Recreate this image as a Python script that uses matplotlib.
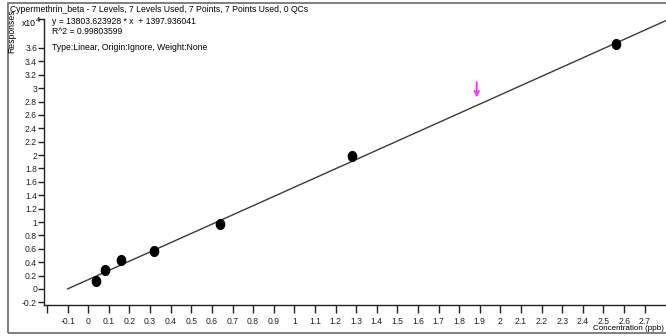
import matplotlib
matplotlib.use("Agg")
import matplotlib.pyplot as plt
import numpy as np
from matplotlib.path import Path
from matplotlib.patches import Rectangle
from matplotlib import font_manager

# ---- data ----
conc = [0.04, 0.08, 0.16, 0.32, 0.64, 1.28, 2.56]
resp = [1200, 2800, 4300, 5700, 9700, 19900, 36600]
slope = 13803.623928
intercept = 1397.936041
r2 = 0.99803599
line_x = [-0.1, 2.8]
arrow_x = 1.885
arrow_y = [30900, 28600]
title = "Cypermethrin_beta - 7 Levels, 7 Levels Used, 7 Points, 7 Points Used, 0 QCs"
xticks = [round(-0.2 + 0.1 * i, 1) for i in range(30)]
yticks = [round(-0.2 + 0.2 * i, 1) for i in range(20)]

names = {f.name for f in font_manager.fontManager.ttflist}
fam = ["Liberation Sans Narrow"] if "Liberation Sans Narrow" in names else ["Liberation Sans"]
plt.rcParams["font.family"] = fam + ["DejaVu Sans"]
fs = 6.2

W, H = 666, 336
fig = plt.figure(figsize=(W / 100, H / 100), dpi=100)
fig.patch.set_facecolor("white")

# outer frame
fig.patches.append(Rectangle((8 / W, 3 / H), 1.0, (333 - 3) / H, transform=fig.transFigure,
                             fill=False, edgecolor="#6a6a6a", lw=1.2, clip_on=False))

ax_l, ax_r, ax_b, ax_t = 44, 668, 305, 19
ax = fig.add_axes([ax_l / W, (H - ax_b) / H, (ax_r - ax_l) / W, (ax_b - ax_t) / H])
ax.set_facecolor("none")
ax.set_xlim(-0.2146, 2.813)
ax.set_ylim(-0.239, 4.033)

for s in ["top", "right"]:
    ax.spines[s].set_visible(False)
for s in ["left", "bottom"]:
    ax.spines[s].set_color("#222222")
    ax.spines[s].set_linewidth(1.0)

ax.set_xticks(xticks)
ax.set_xticklabels(["" if v == -0.2 else f"{v:g}" for v in xticks], fontsize=fs)
ax.tick_params(axis="x", direction="out", length=6, width=1, pad=3, colors="#222222")
ax.set_yticks(yticks + [4.03])
ax.set_yticklabels([f"{v:g}" if v <= 3.6 else "" for v in yticks] + [""], fontsize=fs)
ax.tick_params(axis="y", direction="out", length=4, width=1, pad=1, colors="#222222")

# regression line
lx = np.array(line_x)
ax.plot(lx, (slope * lx + intercept) / 1e4, color="#3a3a3a", lw=1.0, zorder=2, clip_on=False)

# points (ellipse marker)
t = np.linspace(0, 2 * np.pi, 40)
ell = Path(np.column_stack([0.85 * np.cos(t), np.sin(t)]), closed=True)
ax.plot(conc, np.array(resp) / 1e4, linestyle="none", marker=ell, markersize=7,
        color="black", zorder=3)

# magenta arrow
ax.annotate("", xy=(arrow_x, arrow_y[1] / 1e4), xytext=(arrow_x, arrow_y[0] / 1e4),
            arrowprops=dict(arrowstyle="->", color="#ff33ff", lw=1.4,
                            shrinkA=0, shrinkB=0, mutation_scale=8))

# texts
def ftxt(x, y, s, **kw):
    fig.text(x / W, 1 - y / H, s, fontsize=kw.pop("fontsize", fs), color="black", **kw)

ftxt(10, 9, title, ha="left", va="center")
ftxt(52, 22, f"y = {slope:.6f} * x  + {intercept:.6f}", ha="left", va="center")
ftxt(52, 31, f"R^2 = {r2:.8f}", ha="left", va="center")
ftxt(52, 48, "Type:Linear, Origin:Ignore, Weight:None", ha="left", va="center")
ftxt(12, 31, "Responses", ha="center", va="center", rotation=90)
ftxt(22, 24, "x10", ha="left", va="center")
ftxt(36, 20, "4", ha="left", va="center", fontsize=5.5)
ftxt(664, 329, "Concentration (ppb)", ha="right", va="center", fontsize=5.8)

fig.savefig("out.png", dpi=100)
